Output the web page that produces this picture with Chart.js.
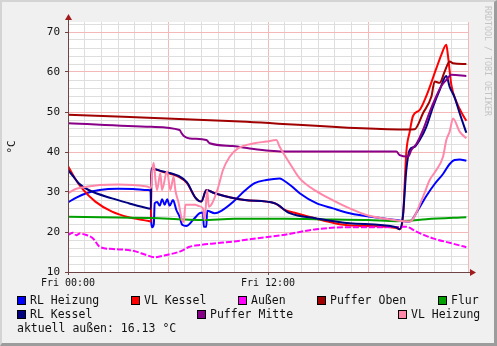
<!DOCTYPE html>
<html>
<head>
<meta charset="utf-8">
<script src="https://cdn.jsdelivr.net/npm/chart.js@4.4.1/dist/chart.umd.min.js"></script>
<style>
  html, body { margin: 0; padding: 0; background: #f0f0f0; }
  #wrap { position: relative; width: 497px; height: 346px; background: #f0f0f0; overflow: hidden;
          font-family: 'DejaVu Sans Mono', monospace; }
  #chart { position: absolute; left: 0; top: 0; }
  #frame { position: absolute; left: 0; top: 0; width: 497px; height: 346px; box-sizing: border-box;
           border-top: 2px solid #d4d4d4; border-left: 2px solid #d4d4d4;
           border-right: 3px solid #9c9c9c; border-bottom: 3px solid #9c9c9c; pointer-events: none; }
  .lg { position: absolute; font-size: 11.5px; line-height: 14px; color: #111; white-space: pre; }
  .box { position: absolute; width: 7px; height: 7px; border: 1px solid #000; }
  #mark { position: absolute; left: 483px; top: 6px; writing-mode: vertical-rl; font-size: 8.3px;
          color: #c4c4c4; letter-spacing: 0; }
</style>
</head>
<body>
<div id="wrap">
  <canvas id="chart" width="497" height="346"></canvas>
  <div id="legend"></div>
  <div id="mark">RRDTOOL / TOBI OETIKER</div>
  <div id="frame"></div>
</div>
<script>
// Serien (Zeit in Stunden ab Fri 00:00, Werte in °C)
const names = ['RL Heizung', 'VL Kessel', 'Außen', 'Puffer Oben', 'Flur', 'RL Kessel', 'Puffer Mitte', 'VL Heizung'];
const colors = ['#0000ff', '#ff0000', '#ff00ff', '#a00000', '#00a000', '#000080', '#880088', '#ff88aa'];

const rlHeizungT = [0, 0.5, 1.1, 1.9, 3.0, 3.9, 4.8, 4.95, 5.0, 5.05, 5.15, 5.2, 5.35, 5.5, 5.65, 5.8, 5.95, 6.1, 6.3, 6.5, 6.7, 6.85, 7.1, 7.5, 7.9, 8.1, 8.15, 8.3, 8.35, 8.8, 9.2, 9.9, 10.6, 11.2, 11.9, 12.7, 12.9, 13.4, 13.9, 14.9, 15.9, 16.9, 18.5, 19.7, 20.5, 21.0, 21.5, 22.0, 22.5, 22.9, 23.2, 23.5, 23.9];
const rlHeizungV = [27.4, 28.6, 29.7, 30.5, 30.8, 30.75, 30.5, 30.3, 22.2, 21.2, 22, 27.2, 27.5, 26.6, 28.2, 26.8, 28.2, 26.6, 28, 25.5, 23.8, 21.8, 21.5, 23, 24.7, 24.9, 21.3, 21.3, 25.3, 24.7, 25.3, 27.5, 30.3, 32.2, 33, 33.4, 33, 31.5, 29.7, 27.2, 25.9, 24.7, 23.6, 23, 22.6, 25.5, 29, 32, 34.5, 37, 38, 38.1, 37.8];

const vlKesselT = [0, 0.4, 0.84, 1.64, 2.64, 3.64, 4.84, 4.98, 5.0, 5.64, 6.64, 7.14, 7.64, 8.0, 8.3, 8.8, 10.6, 12.4, 13.0, 13.6, 15.0, 16.0, 17.0, 18.0, 19.0, 19.7, 19.9, 20.1, 20.3, 20.5, 20.7, 21.1, 21.5, 22.1, 22.4, 22.7, 22.8, 23.0, 23.3, 23.7, 23.9];
const vlKesselV = [36.5, 33.5, 30.9, 27.6, 25.1, 23.7, 22.75, 22.6, 35.9, 35.1, 33.8, 32.2, 28.6, 27.6, 30.5, 29.7, 28, 27.2, 25.5, 24.8, 23.2, 22.2, 21.6, 21.5, 21.3, 21.0, 20.7, 24, 40, 45, 49, 50.5, 54, 60.9, 64.3, 66.8, 64, 56.8, 52.6, 49.2, 47.8];

const aussenT = [0, 0.3, 0.5, 0.7, 1.1, 1.5, 1.9, 2.7, 3.9, 4.7, 5.2, 5.9, 6.7, 7.3, 7.9, 8.9, 9.9, 10.9, 12.9, 14.9, 16.9, 18.9, 20.3, 20.9, 21.9, 22.9, 23.9];
const aussenV = [19.25, 19.8, 19.2, 19.6, 19.25, 18.4, 16.3, 15.75, 15.3, 14.25, 13.7, 14.25, 15.1, 16.3, 16.75, 17.2, 17.6, 18.2, 19.25, 20.7, 21.2, 21.2, 21.3, 20.1, 18.4, 17.3, 16.2];

const pufferObenT = [0, 10, 20.4, 20.8, 21.3, 21.8, 22.0, 22.3, 22.6, 22.9, 23.1, 23.9];
const pufferObenV = [49.3, 47.7, 45.6, 45.7, 49.7, 53.8, 57.6, 57.3, 60.1, 62.6, 62.2, 62];

const flurT = [0, 3, 5, 7, 8, 10, 13, 16, 18, 19.7, 20.4, 21.5, 23.9];
const flurV = [23.8, 23.6, 23.5, 23.1, 23.0, 23.3, 23.3, 23.1, 23.0, 22.7, 22.8, 23.2, 23.7];

const rlKesselT = [0, 0.3, 0.64, 1.24, 2.64, 3.64, 4.84, 4.98, 5.0, 5.64, 6.64, 7.14, 7.64, 8.0, 8.3, 8.8, 10.6, 12.4, 13.3, 14.9, 16.9, 19.7, 19.9, 20.1, 20.3, 20.5, 20.8, 21.1, 21.5, 21.9, 22.3, 22.7, 22.9, 23.2, 23.5, 23.9];
const rlKesselV = [35.5, 34, 32.2, 30.5, 28.4, 27.2, 25.9, 25.8, 35.9, 35.2, 34, 32.4, 28.6, 27.6, 30.5, 29.7, 28, 27.2, 24.7, 23.4, 22.2, 21.2, 20.7, 24.2, 35.5, 40.5, 41.3, 43, 46.3, 51.3, 55.5, 59, 56.3, 53.6, 49.7, 44.8];

const pufferMitteT = [0, 5.0, 6.7, 6.8, 6.95, 7.3, 8.3, 8.5, 9.9, 10.9, 12.1, 12.9, 19.7, 19.9, 20.4, 20.6, 20.9, 21.3, 21.7, 22.0, 22.4, 22.7, 23.0, 23.9];
const pufferMitteV = [47.2, 46.3, 45.5, 44.8, 44, 43.4, 43, 42.2, 41.5, 40.9, 40.3, 40.1, 40.1, 39.2, 38.8, 40.5, 42, 45.5, 50, 53, 56.5, 58, 59.3, 59];

const vlHeizungT = [0, 0.5, 1.1, 1.9, 3.0, 3.9, 4.8, 4.98, 5.05, 5.14, 5.25, 5.34, 5.54, 5.64, 5.94, 6.14, 6.34, 6.44, 6.64, 6.84, 6.95, 7.04, 7.64, 7.84, 8.1, 8.2, 8.35, 8.45, 8.65, 9.0, 9.3, 9.7, 10.2, 11.2, 11.9, 12.5, 12.7, 13.3, 13.9, 14.9, 15.9, 16.9, 17.9, 18.9, 20.5, 21.3, 21.7, 22.1, 22.5, 22.7, 22.9, 23.1, 23.5, 23.9];
const vlHeizungV = [29.7, 30.8, 31.3, 31.75, 31.9, 31.75, 31.3, 31.0, 35, 37.3, 33, 30.5, 34.7, 30.5, 35.2, 30.5, 33.8, 30.5, 27.2, 23, 22.5, 26.8, 26.8, 26.5, 25.9, 23, 30.5, 26.3, 27.2, 31, 35.5, 38.8, 40.9, 42.2, 42.6, 43, 41.3, 37.2, 33.4, 30.2, 27.9, 25.9, 24.25, 23.4, 22.6, 28.8, 33, 35.5, 38.8, 43, 45.1, 48.4, 45.1, 43.4];

const seriesT = [rlHeizungT, vlKesselT, aussenT, pufferObenT, flurT, rlKesselT, pufferMitteT, vlHeizungT];
const seriesV = [rlHeizungV, vlKesselV, aussenV, pufferObenV, flurV, rlKesselV, pufferMitteV, vlHeizungV];

// Achsen
const xLabels = { 0: 'Fri 00:00', 12: 'Fri 12:00' };
const yLabels = [10, 20, 30, 40, 50, 60, 70];
const aktuellAussen = '16.13';

// Legende (HTML)
const legendRows = [
  [[0, 17], [1, 131], [2, 238], [3, 317], [4, 438]],
  [[5, 17], [6, 197], [7, 398]]
];
const legendEl = document.getElementById('legend');
legendRows.forEach((row, r) => {
  const cy = 300 + r * 14;
  row.forEach(([i, bx]) => {
    const b = document.createElement('div');
    b.className = 'box';
    b.style.left = bx + 'px';
    b.style.top = (cy - 4) + 'px';
    b.style.background = colors[i];
    legendEl.appendChild(b);
    const t = document.createElement('div');
    t.className = 'lg';
    t.style.left = (bx + 13) + 'px';
    t.style.top = (cy - 7) + 'px';
    t.textContent = names[i];
    legendEl.appendChild(t);
  });
});
const akt = document.createElement('div');
akt.className = 'lg';
akt.style.left = '17px';
akt.style.top = (328 - 7) + 'px';
akt.textContent = 'aktuell außen: ' + aktuellAussen + ' °C';
legendEl.appendChild(akt);

const gridMinor = '#dedede';
const gridMajor = '#f4b8b8';
const axisColor = '#6e4444';
const arrowColor = '#a01c1c';

// Zeichenfläche weiss + Pfeile an den Achsen
const rrdPlugin = {
  id: 'rrd',
  beforeDraw(chart) {
    const a = chart.chartArea;
    const ctx = chart.ctx;
    ctx.save();
    ctx.fillStyle = '#ffffff';
    ctx.fillRect(a.left, a.top, a.right - a.left, a.bottom - a.top);
    ctx.restore();
  },
  afterDraw(chart) {
    const a = chart.chartArea;
    const ctx = chart.ctx;
    const x0 = Math.round(a.left) + 0.5;
    const y0 = Math.round(a.bottom) + 0.5;
    ctx.save();
    ctx.strokeStyle = axisColor;
    ctx.lineWidth = 1;
    ctx.beginPath();
    ctx.moveTo(x0, y0);
    ctx.lineTo(x0, 18);
    ctx.moveTo(x0, y0);
    ctx.lineTo(472, y0);
    ctx.stroke();
    ctx.fillStyle = arrowColor;
    ctx.beginPath();
    ctx.moveTo(x0, 14);
    ctx.lineTo(x0 - 3.5, 20);
    ctx.lineTo(x0 + 3.5, 20);
    ctx.closePath();
    ctx.fill();
    ctx.beginPath();
    ctx.moveTo(476, y0);
    ctx.lineTo(470, y0 - 3.5);
    ctx.lineTo(470, y0 + 3.5);
    ctx.closePath();
    ctx.fill();
    ctx.restore();
  }
};

const N = names.length;
const datasets = names.map((name, i) => ({
  label: name,
  data: seriesT[i].map((t, k) => ({ x: t, y: seriesV[i][k] })),
  borderColor: colors[i],
  backgroundColor: colors[i],
  borderWidth: 2,
  borderDash: i === 2 ? [6, 2] : [],
  pointRadius: 0,
  cubicInterpolationMode: 'monotone',
  fill: false,
  order: N - 1 - i
}));

new Chart(document.getElementById('chart'), {
  type: 'line',
  data: { datasets },
  options: {
    responsive: false,
    animation: false,
    layout: { padding: { left: 0, top: 22, right: 29, bottom: 54 } },
    plugins: { legend: { display: false }, tooltip: { enabled: false } },
    scales: {
      x: {
        type: 'linear',
        min: 0,
        max: 24,
        afterBuildTicks(scale) {
          const t = [];
          for (let h = 0; h <= 24; h++) t.push({ value: h });
          scale.ticks = t;
        },
        afterFit(scale) { scale.height = 20; },
        ticks: {
          autoSkip: false,
          maxRotation: 0,
          padding: 2,
          color: '#111',
          font: { family: 'DejaVu Sans Mono', size: 10 },
          callback: v => xLabels[v] || ''
        },
        grid: {
          color: c => (c.tick && c.tick.value % 6 === 0) ? gridMajor : gridMinor,
          lineWidth: 1,
          tickLength: 3,
          tickColor: c => (c.tick && xLabels[c.tick.value]) ? axisColor : 'rgba(0,0,0,0)'
        },
        border: { color: axisColor, width: 1 }
      },
      y: {
        min: 10,
        max: 72.5,
        afterBuildTicks(scale) {
          const t = [];
          for (let v = 10; v <= 72; v += 2) t.push({ value: v });
          scale.ticks = t;
        },
        afterFit(scale) { scale.width = 68; },
        ticks: {
          autoSkip: false,
          padding: 5,
          color: '#111',
          font: { family: 'DejaVu Sans Mono', size: 11 },
          callback: v => yLabels.includes(v) ? String(v) : ''
        },
        grid: {
          color: c => (c.tick && c.tick.value % 10 === 0) ? gridMajor : gridMinor,
          lineWidth: 1,
          tickLength: 3,
          tickColor: c => (c.tick && yLabels.includes(c.tick.value)) ? axisColor : 'rgba(0,0,0,0)'
        },
        border: { color: axisColor, width: 1 },
        title: {
          display: true,
          text: '°C',
          color: '#111',
          padding: { top: 6, bottom: 0 },
          font: { family: 'DejaVu Sans Mono', size: 11 }
        }
      }
    }
  },
  plugins: [rrdPlugin]
});
</script>
</body>
</html>
